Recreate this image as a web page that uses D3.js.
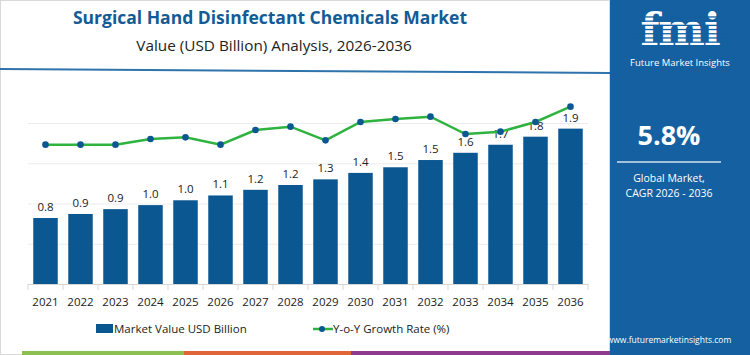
<!DOCTYPE html>
<html><head><meta charset="utf-8">
<script src="https://cdn.jsdelivr.net/npm/d3@7"></script>
<style>html,body{margin:0;padding:0;background:#fff;}svg{display:block;font-family:"Open Sans",sans-serif;}</style>
</head><body><svg id="c" width="750" height="355"></svg>
<script>
const years = ["2021","2022","2023","2024","2025","2026","2027","2028","2029","2030","2031","2032","2033","2034","2035","2036"];
const marketValue = [0.82,0.87,0.93,0.98,1.04,1.10,1.17,1.23,1.30,1.38,1.45,1.54,1.63,1.73,1.83,1.93];
const valueLabels = ["0.8","0.9","0.9","1.0","1.0","1.1","1.2","1.2","1.3","1.4","1.5","1.5","1.6","1.7","1.8","1.9"];
const growthRate = [5.78,5.78,5.78,5.95,6.0,5.78,6.22,6.32,5.91,6.46,6.55,6.62,6.1,6.17,6.46,6.92];
const yTicks = [0,0.5,1.0,1.5,2.0];

const svg = d3.select("#c");
const blue = "#0b5791", green = "#2eb33f";

// frame
svg.append("rect").attr("x",0.5).attr("y",0.5).attr("width",609).attr("height",354).attr("fill","none").attr("stroke","#d9d9d9");

// title
svg.append("text").attr("x",270).attr("y",24).attr("text-anchor","middle").attr("font-size",17.5).attr("font-weight",700).attr("fill","#135b95").text("Surgical Hand Disinfectant Chemicals Market");
svg.append("text").attr("x",274).attr("y",51).attr("text-anchor","middle").attr("font-size",15.3).attr("fill","#222").text("Value (USD Billion) Analysis, 2026-2036");
svg.append("line").attr("x1",0).attr("y1",69).attr("x2",610).attr("y2",73).attr("stroke","#2f73ad").attr("stroke-width",2);

// scales
const x = d3.scaleBand().domain(years).range([28,588]).paddingInner(0.3).paddingOuter(0.15);
const y = d3.scaleLinear().domain([0,2]).range([284,123]);
const yR = d3.scaleLinear().domain([4,7]).range([204,104]);

// gridlines
svg.append("g").call(d3.axisLeft(y).tickValues(yTicks).tickSize(-560).tickFormat(""))
  .attr("transform","translate(28,0)")
  .call(g=>{g.select(".domain").remove();g.selectAll("line").attr("stroke","#ececec");});

// x axis
const xa = svg.append("g").attr("transform","translate(0,284)")
  .call(d3.axisBottom(x).tickSize(0).tickPadding(14));
xa.select(".domain").attr("stroke","#d6d6d6");
xa.selectAll("text").attr("font-size",11.5).attr("fill","#222").attr("font-family","Open Sans, sans-serif");
// band separators
const step = x.step();
svg.append("g").selectAll("line").data(d3.range(years.length+1)).join("line")
  .attr("x1",i=>28+i*step).attr("x2",i=>28+i*step).attr("y1",284).attr("y2",290).attr("stroke","#d6d6d6");

// bars
svg.append("g").selectAll("rect").data(years).join("rect")
  .attr("x",d=>x(d)).attr("width",x.bandwidth())
  .attr("y",(d,i)=>y(marketValue[i])).attr("height",(d,i)=>y(0)-y(marketValue[i])).attr("fill",blue);

// bar labels
svg.append("g").selectAll("text").data(years).join("text")
  .attr("x",d=>x(d)+x.bandwidth()/2).attr("y",(d,i)=>y(marketValue[i])-7)
  .attr("text-anchor","middle").attr("font-size",11.5).attr("fill","#222").text((d,i)=>valueLabels[i]);

// line
const line = d3.line().x((d,i)=>x(years[i])+x.bandwidth()/2).y(d=>yR(d));
svg.append("path").datum(growthRate).attr("d",line).attr("fill","none").attr("stroke",green).attr("stroke-width",2.5);
svg.append("g").selectAll("circle").data(growthRate).join("circle")
  .attr("cx",(d,i)=>x(years[i])+x.bandwidth()/2).attr("cy",d=>yR(d)).attr("r",3.3).attr("fill",blue);

// legend
svg.append("rect").attr("x",96).attr("y",324).attr("width",17).attr("height",9).attr("fill",blue);
svg.append("text").attr("x",114).attr("y",333).attr("font-size",11.5).attr("fill","#222").text("Market Value USD Billion");
svg.append("line").attr("x1",313).attr("x2",333).attr("y1",329).attr("y2",329).attr("stroke",green).attr("stroke-width",2.5);
svg.append("circle").attr("cx",322).attr("cy",329).attr("r",3).attr("fill",blue);
svg.append("text").attr("x",333).attr("y",333).attr("font-size",11.5).attr("fill","#222").text("Y-o-Y Growth Rate (%)");

// bottom stripes
svg.append("rect").attr("x",22).attr("y",351).attr("width",162).attr("height",4).attr("fill","#8cc152");
svg.append("rect").attr("x",184).attr("y",351).attr("width",167).attr("height",4).attr("fill","#e0663a");
svg.append("rect").attr("x",351).attr("y",351).attr("width",259).attr("height",4).attr("fill","#8e3a8e");

// right panel
const pBlue = "#1560a0";
svg.append("rect").attr("x",610).attr("y",0).attr("width",140).attr("height",355).attr("fill",pBlue);
svg.append("text").attr("x",680).attr("y",45).attr("text-anchor","middle").attr("font-size",44).attr("font-weight",800).attr("fill","#fff").attr("font-family","DejaVu Serif, serif").attr("letter-spacing",-1).text("fmi");
// stripes over logo
svg.append("g").selectAll("rect").data(d3.range(8)).join("rect")
  .attr("x",628).attr("y",i=>14+i*4.2+2.3).attr("width",104).attr("height",1.3).attr("fill",pBlue);
svg.append("text").attr("x",680).attr("y",66).attr("text-anchor","middle").attr("font-size",9.5).attr("fill","#fff").text("Future Market Insights");
svg.append("text").attr("x",669).attr("y",145).attr("text-anchor","middle").attr("font-size",27).attr("font-weight",700).attr("fill","#fff").text("5.8%");
svg.append("line").attr("x1",617).attr("x2",721).attr("y1",162).attr("y2",162).attr("stroke","#cfe0f0").attr("stroke-width",1.5);
svg.append("text").attr("x",669).attr("y",182).attr("text-anchor","middle").attr("font-size",10.5).attr("fill","#fff").text("Global Market,");
svg.append("text").attr("x",669).attr("y",197).attr("text-anchor","middle").attr("font-size",10.5).attr("fill","#fff").text("CAGR 2026 - 2036");
svg.append("text").attr("x",669).attr("y",343).attr("text-anchor","middle").attr("font-size",8.5).attr("fill","#fff").text("www.futuremarketinsights.com");
</script></body></html>
